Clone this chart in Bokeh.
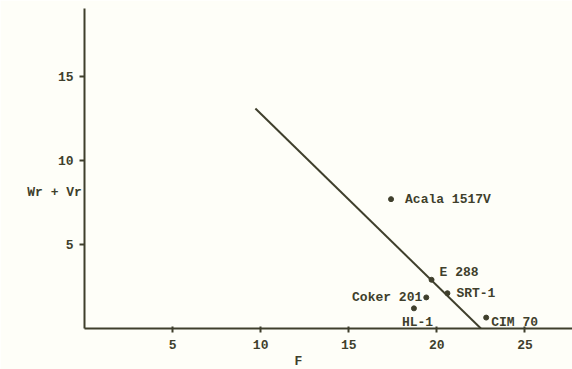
from bokeh.plotting import figure
from bokeh.models import Range1d, FixedTicker, ColumnDataSource, LabelSet, Title
from bokeh.core.properties import value
from bokeh.embed import file_html
from bokeh.resources import INLINE

# Data
varieties = ["Acala 1517V", "E 288", "SRT-1", "Coker 201", "HL-1", "CIM 70"]
F_values = [17.4, 19.7, 20.6, 19.4, 18.7, 22.8]
WrVr_values = [7.7, 2.9, 2.1, 1.85, 1.2, 0.65]

# fitted regression line end points
line_F = [9.7, 22.5]
line_WrVr = [13.1, 0.0]

x_ticks = [5, 10, 15, 20, 25]
y_ticks = [5, 10, 15]

# label placement (styles, pixel offsets)
label_dx = [14, 8, 9, -4, -12, 5]
label_dy = [0, 7, 0, 0, -14, -5]
label_align = ["left", "left", "left", "right", "left", "left"]

INK = "#3f3f2c"
BG = "#fefef8"
FONT = "Liberation Mono"

p = figure(width=572, height=369, output_backend="svg", toolbar_location=None,
           x_range=Range1d(0, 27.7), y_range=Range1d(0, 19.05),
           min_border_left=84, min_border_right=0, min_border_top=8, min_border_bottom=41)
p.background_fill_color = BG
p.border_fill_color = BG
p.outline_line_color = None
p.grid.visible = False

for ax in (p.xaxis[0], p.yaxis[0]):
    ax.axis_line_color = INK
    ax.axis_line_width = 2
    ax.major_tick_line_color = INK
    ax.major_tick_line_width = 2
    ax.minor_tick_line_color = None
    ax.major_label_text_font = FONT
    ax.major_label_text_font_style = "bold"
    ax.major_label_text_font_size = "13px"
    ax.major_label_text_color = INK

p.xaxis.ticker = FixedTicker(ticks=x_ticks)
p.yaxis.ticker = FixedTicker(ticks=y_ticks)
p.xaxis.major_tick_in = 2
p.xaxis.major_tick_out = 4
p.yaxis.major_tick_in = 0
p.yaxis.major_tick_out = 5
p.xaxis.major_label_standoff = 7
p.yaxis.major_label_standoff = 6

p.yaxis.axis_label = "\n\nWr + Vr"
p.yaxis.axis_label_orientation = "horizontal"
p.yaxis.axis_label_standoff = -27
p.yaxis.axis_label_text_line_height = 1.6
p.yaxis.axis_label_text_font = FONT
p.yaxis.axis_label_text_font_style = "bold"
p.yaxis.axis_label_text_font_size = "13px"
p.yaxis.axis_label_text_color = INK

p.line(line_F, line_WrVr, line_color=INK, line_width=2)
src = ColumnDataSource(dict(x=F_values, y=WrVr_values, name=varieties,
                            dx=label_dx, dy=label_dy, align=label_align))
p.scatter("x", "y", source=src, size=5, color=INK)

labels = LabelSet(x="x", y="y", text="name", source=src, x_offset="dx", y_offset="dy",
                  text_align="align", text_baseline="middle", text_font=value(FONT),
                  text_font_style="bold", text_font_size="13px", text_color=INK)
p.add_layout(labels)

p.add_layout(Title(text="F", align="left", offset=210, text_font=FONT, text_font_style="bold",
                   text_font_size="13px", text_color=INK, standoff=0, text_line_height=1.0), "below")

open("out.html", "w").write(file_html(p, INLINE))
